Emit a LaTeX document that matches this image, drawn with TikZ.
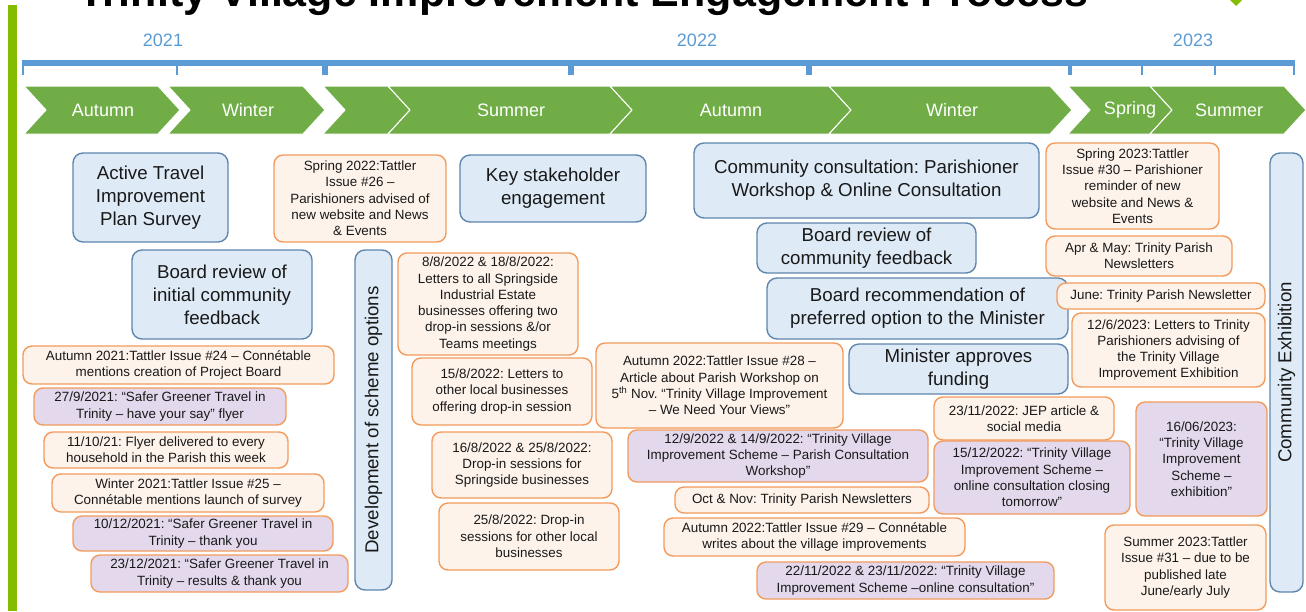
\documentclass[tikz,border=0pt]{standalone}
\usepackage{fontspec}
\setmainfont{Liberation Sans}
\usepackage{tikz}
\usetikzlibrary{calc}

\definecolor{lime}{HTML}{84BD00}
\definecolor{chev}{HTML}{70AD47}
\definecolor{tline}{HTML}{5B9BD5}
\definecolor{stagefill}{HTML}{DEEBF7}
\definecolor{stageline}{HTML}{5F86AE}
\definecolor{newsfill}{HTML}{FDF3EB}
\definecolor{newsline}{HTML}{F29B5C}
\definecolor{flyerfill}{HTML}{E3D8EC}

\frenchspacing
\begin{document}
\begin{tikzpicture}[x=1pt, y=-1pt,
    stage/.style={draw=stageline, line width=1.4pt, fill=stagefill, rounded corners=10pt,
      align=center, inner sep=0pt, text=black!90, font=\fontsize{18.7}{23}\selectfont},
    news/.style={draw=newsline, line width=1.4pt, fill=newsfill, rounded corners=9pt,
      align=center, inner sep=0pt, text=black!90, font=\fontsize{13.4}{16.3}\selectfont},
    flyer/.style={news, fill=flyerfill},
    season/.style={fill=chev, draw=white, line width=1pt},
    seasontxt/.style={text=white, font=\fontsize{18}{20}\selectfont},
    year/.style={text=tline, font=\fontsize{18}{20}\selectfont}]
      \useasboundingbox (0,0) rectangle (1306,611);
      % title, cut at the top edge
      \node[anchor=base west, inner sep=0pt, font=\fontsize{43}{45}\selectfont\bfseries] (title) at (78,6) {Trinity Village Improvement Engagement Process};
      \fill[lime] (1236,6) -- (1245,-3) -- (1236,-12) -- (1227,-3) -- cycle;
      \fill[lime] (8,5) rectangle (17,611);
      % timeline
      \node[year] (yrA) at (163,40) {2021};
      \node[year] (yrB) at (697,40) {2022};
      \node[year] (yrC) at (1193,40) {2023};
      \fill[tline] (22,60) rectangle (1295,66);
      \foreach \x/\w in {23/2, 177/2, 325/6, 571/6, 809/6, 1070/4, 1142/2, 1215/2, 1294/2}
        \fill[tline] (\x-\w/2,60) rectangle (\x+\w/2,75);
      \foreach \l/\e in {24/158, 168/303, 323/388, 388/610, 610/829, 829/1050, 1068/1150, 1150/1284}
        \filldraw[season] (\l,86) -- (\e,86) -- (\e+22,110) -- (\e,134) -- (\l,134) -- (\l+22,110) -- cycle;
      \node[seasontxt] (autA) at (103,110) {Autumn};
      \node[seasontxt] (winA) at (248,110) {Winter};
      \node[seasontxt] (sumB) at (511,110) {Summer};
      \node[seasontxt] (autB) at (731,110) {Autumn};
      \node[seasontxt] (winB) at (952,110) {Winter};
      \node[seasontxt] (sprC) at (1130,110) {Spring};
      \node[seasontxt] (sumC) at (1229,110) {Summer};
      % stages
      \node[stage, minimum width=155, minimum height=89] (actSurvey) at (150.5,197.5) {Active Travel\\Improvement\\Plan Survey};
      \node[stage, minimum width=180, minimum height=89] (boardInit) at (222,294.5) {Board review of\\initial community\\feedback};
      \node[stage, rotate=90, minimum width=340, minimum height=37] (devOpts) at (373.5,420) {Development of scheme options};
      \node[stage, minimum width=186, minimum height=67] (keyStake) at (553,188.5) {Key stakeholder\\engagement};
      \node[stage, minimum width=345, minimum height=75] (commCons) at (866.5,180.5) {Community consultation: Parishioner\\Workshop \& Online Consultation};
      \node[stage, minimum width=219, minimum height=50] (boardComm) at (866.5,248) {Board review of\\community feedback};
      \node[stage, minimum width=301, minimum height=61] (boardRec) at (917.5,308.5) {Board recommendation of\\preferred option to the Minister};
      \node[stage, minimum width=219, minimum height=50] (minister) at (958.5,369) {Minister approves\\funding};
      \node[stage, rotate=90, minimum width=439, minimum height=33] (commExh) at (1286.5,372.5) {Community Exhibition};
      % 2021 communications
      \node[news, minimum width=311, minimum height=38] (tattlerA) at (178.5,365) {Autumn 2021:Tattler Issue \#24 – Connétable\\mentions creation of Project Board};
      \node[flyer, minimum width=252, minimum height=37] (flyerA) at (160,406.5) {27/9/2021: “Safer Greener Travel in\\Trinity – have your say” flyer};
      \node[news, minimum width=244, minimum height=36] (flyerDel) at (166,450) {11/10/21: Flyer delivered to every\\household in the Parish this week};
      \node[news, minimum width=272, minimum height=38] (tattlerB) at (188,493) {Winter 2021:Tattler Issue \#25 –\\Connétable mentions launch of survey};
      \node[flyer, minimum width=260, minimum height=35] (flyerB) at (203,533.5) {10/12/2021: “Safer Greener Travel in\\Trinity – thank you};
      \node[flyer, minimum width=257, minimum height=37] (flyerC) at (219.5,573.5) {23/12/2021: “Safer Greener Travel in\\Trinity – results \& thank you};
      % 2022 communications
      \node[news, minimum width=172, minimum height=87] (tattlerC) at (360,198.5) {Spring 2022:Tattler\\Issue \#26 –\\Parishioners advised of\\new website and News\\\& Events};
      \node[news, minimum width=180, minimum height=102] (lettersSpr) at (488,304) {8/8/2022 \& 18/8/2022:\\Letters to all Springside\\Industrial Estate\\businesses offering two\\drop-in sessions \&/or\\Teams meetings};
      \node[news, minimum width=180, minimum height=67] (lettersOth) at (502,391.5) {15/8/2022: Letters to\\other local businesses\\offering drop-in session};
      \node[news, minimum width=180, minimum height=66] (dropSpr) at (522,465) {16/8/2022 \& 25/8/2022:\\Drop-in sessions for\\Springside businesses};
      \node[news, minimum width=180, minimum height=67] (dropOth) at (529,536.5) {25/8/2022: Drop-in\\sessions for other local\\businesses};
      \node[news, minimum width=247, minimum height=85] (tattlerD) at (719.5,385.5) {Autumn 2022:Tattler Issue \#28 –\\Article about Parish Workshop on\\5\textsuperscript{th} Nov. “Trinity Village Improvement\\– We Need Your Views”};
      \node[flyer, minimum width=300, minimum height=52] (workshop) at (778,456) {12/9/2022 \& 14/9/2022: “Trinity Village\\Improvement Scheme – Parish Consultation\\Workshop”};
      \node[news, minimum width=254, minimum height=26] (octNov) at (802,500) {Oct \& Nov: Trinity Parish Newsletters};
      \node[news, minimum width=301, minimum height=38] (tattlerE) at (814.5,537) {Autumn 2022:Tattler Issue \#29 – Connétable\\writes about the village improvements};
      \node[flyer, minimum width=297, minimum height=37] (online) at (905.5,580.5) {22/11/2022 \& 23/11/2022: “Trinity Village\\Improvement Scheme –online consultation”};
      \node[news, minimum width=180, minimum height=43] (jep) at (1024,418.5) {23/11/2022: JEP article \&\\social media};
      \node[flyer, minimum width=196, minimum height=73] (closing) at (1032,477.5) {15/12/2022: “Trinity Village\\Improvement Scheme –\\online consultation closing\\tomorrow”};
      % 2023 communications
      \node[news, minimum width=173, minimum height=86] (tattlerF) at (1132.5,186) {Spring 2023:Tattler\\Issue \#30 – Parishioner\\reminder of new\\website and News \&\\Events};
      \node[news, minimum width=186, minimum height=40] (aprMay) at (1139,256) {Apr \& May: Trinity Parish\\Newsletters};
      \node[news, minimum width=208, minimum height=26] (june) at (1161,296) {June: Trinity Parish Newsletter};
      \node[news, minimum width=193, minimum height=74] (lettersExh) at (1168.5,350) {12/6/2023: Letters to Trinity\\Parishioners advising of\\the Trinity Village\\Improvement Exhibition};
      \node[flyer, minimum width=131, minimum height=114] (exhibit) at (1201.5,459) {16/06/2023:\\“Trinity Village\\Improvement\\Scheme –\\exhibition”};
      \node[news, minimum width=161, minimum height=85] (tattlerG) at (1185.5,567.5) {Summer 2023:Tattler\\Issue \#31 – due to be\\published late\\June/early July};
    \end{tikzpicture}
\end{document}
